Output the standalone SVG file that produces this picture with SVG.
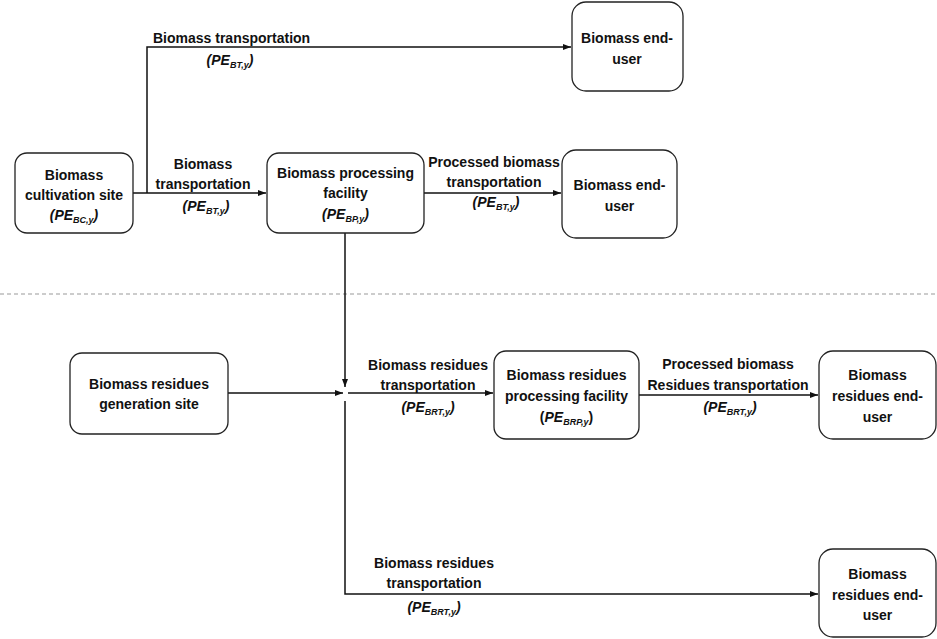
<svg xmlns="http://www.w3.org/2000/svg" width="937" height="639" viewBox="0 0 937 639">
<style>
  .box { fill: #ffffff; stroke: #222222; stroke-width: 1.3; }
  .t { font-family: "Liberation Sans", Arial, sans-serif; font-weight: bold; font-size: 14px; fill: #111111; text-anchor: middle; }
  .i { font-style: italic; }
  .s { font-size: 9px; }
  .ln { fill: none; stroke: #111111; stroke-width: 1.5; }
  .dash { stroke: #999999; stroke-width: 1; stroke-dasharray: 4 3; }
</style>
<defs>
  <marker id="arr" markerUnits="userSpaceOnUse" markerWidth="8" markerHeight="6" refX="8" refY="3" orient="auto">
    <path d="M0,0 L8,3 L0,6 z" fill="#111111"/>
  </marker>
</defs>
<rect width="937" height="639" fill="#ffffff"/>

<line class="dash" x1="0" y1="294" x2="937" y2="294"/>

<g id="connectors">
  <path class="ln" d="M133,193 H266" marker-end="url(#arr)"/>
  <path class="ln" d="M147,193 V47 H571" marker-end="url(#arr)"/>
  <path class="ln" d="M424,193 H561" marker-end="url(#arr)"/>
  <path class="ln" d="M345,233 V387" marker-end="url(#arr)"/>
  <path class="ln" d="M228,393 H343" marker-end="url(#arr)"/>
  <path class="ln" d="M348,393 H493" marker-end="url(#arr)"/>
  <path class="ln" d="M639,395 H818" marker-end="url(#arr)"/>
  <path class="ln" d="M345,401 V594 H818" marker-end="url(#arr)"/>
</g>

<g id="labels">
  <text class="t" x="153" y="43" style="text-anchor:start">Biomass transportation</text>
  <text class="t i" x="230" y="65">(PE<tspan class="s" dy="3">BT,y</tspan><tspan dy="-3">)</tspan></text>

  <text class="t" x="203" y="169">Biomass</text>
  <text class="t" x="203" y="189">transportation</text>
  <text class="t i" x="206" y="211">(PE<tspan class="s" dy="3">BT,y</tspan><tspan dy="-3">)</tspan></text>

  <text class="t" x="494" y="167">Processed biomass</text>
  <text class="t" x="494" y="187">transportation</text>
  <text class="t i" x="496" y="207">(PE<tspan class="s" dy="3">BT,y</tspan><tspan dy="-3">)</tspan></text>

  <text class="t" x="428" y="370">Biomass residues</text>
  <text class="t" x="428" y="390">transportation</text>
  <text class="t i" x="428" y="412">(PE<tspan class="s" dy="3">BRT,y</tspan><tspan dy="-3">)</tspan></text>

  <text class="t" x="728" y="369">Processed biomass</text>
  <text class="t" x="728" y="390">Residues transportation</text>
  <text class="t i" x="730" y="412">(PE<tspan class="s" dy="3">BRT,y</tspan><tspan dy="-3">)</tspan></text>

  <text class="t" x="434" y="568">Biomass residues</text>
  <text class="t" x="434" y="588">transportation</text>
  <text class="t i" x="434" y="612">(PE<tspan class="s" dy="3">BRT,y</tspan><tspan dy="-3">)</tspan></text>
</g>

<g id="cultivation">
  <rect class="box" x="15" y="153" width="118" height="80" rx="12"/>
  <text class="t" x="74" y="180">Biomass</text>
  <text class="t" x="74" y="200">cultivation site</text>
  <text class="t i" x="74" y="220">(PE<tspan class="s" dy="3">BC,y</tspan><tspan dy="-3">)</tspan></text>
</g>

<g id="processing">
  <rect class="box" x="267" y="153" width="157" height="80" rx="12"/>
  <text class="t" x="345.5" y="178">Biomass processing</text>
  <text class="t" x="345.5" y="198">facility</text>
  <text class="t i" x="345.5" y="219">(PE<tspan class="s" dy="3">BP,y</tspan><tspan dy="-3">)</tspan></text>
</g>

<g id="enduser1">
  <rect class="box" x="572" y="2" width="111" height="89" rx="14"/>
  <text class="t" x="627" y="43">Biomass end-</text>
  <text class="t" x="627" y="64">user</text>
</g>

<g id="enduser2">
  <rect class="box" x="562" y="150" width="115" height="88" rx="14"/>
  <text class="t" x="619.5" y="190">Biomass end-</text>
  <text class="t" x="619.5" y="211">user</text>
</g>

<g id="generation">
  <rect class="box" x="70" y="353" width="158" height="81" rx="12"/>
  <text class="t" x="149" y="389">Biomass residues</text>
  <text class="t" x="149" y="409">generation site</text>
</g>

<g id="resprocessing">
  <rect class="box" x="494" y="351" width="145" height="88" rx="12"/>
  <text class="t" x="566.5" y="380">Biomass residues</text>
  <text class="t" x="566.5" y="401">processing facility</text>
  <text class="t" x="566.5" y="422">(<tspan class="i">PE</tspan><tspan class="s i" dy="3">BRP,y</tspan><tspan dy="-3">)</tspan></text>
</g>

<g id="enduser3">
  <rect class="box" x="819" y="351" width="117" height="88" rx="14"/>
  <text class="t" x="877.5" y="380">Biomass</text>
  <text class="t" x="877.5" y="401">residues end-</text>
  <text class="t" x="877.5" y="422">user</text>
</g>

<g id="enduser4">
  <rect class="box" x="819" y="549" width="117" height="88" rx="14"/>
  <text class="t" x="877.5" y="579">Biomass</text>
  <text class="t" x="877.5" y="600">residues end-</text>
  <text class="t" x="877.5" y="620">user</text>
</g>
</svg>
